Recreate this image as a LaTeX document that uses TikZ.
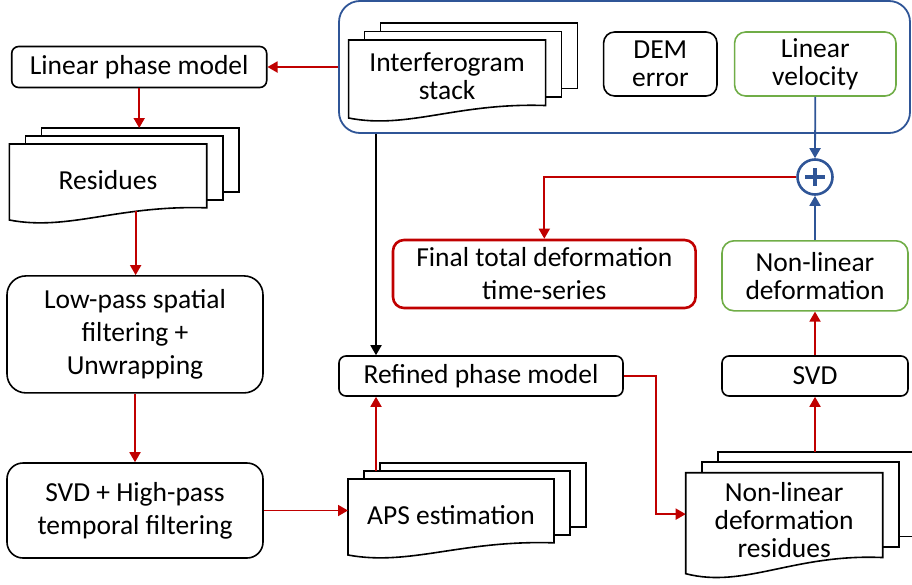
\documentclass[tikz,border=0pt]{standalone}
\usepackage{fontspec}
\setmainfont{Carlito}
\usepackage{xcolor}
\usepackage{tikz}
\usetikzlibrary{positioning,calc,arrows.meta}

\definecolor{flowred}{HTML}{C00000}
\definecolor{flowblue}{HTML}{2F5597}
\definecolor{flowgreen}{HTML}{70AD47}

% stack of three pages, front one with a wavy bottom
% #1 name, #2 x, #3 y (front page, top left), #4 width, #5 height, #6 step up, #7 text
\newcommand{\docstack}[7]{%
	\foreach \pg in {2,1}
		\draw[page] ({#2+16*\pg},{#3+(#6)*\pg}) rectangle ++(#4,{0.84*#5});
	\draw[page] (#2,#3) -- ++(#4,0) -- ++(0,{0.84*#5})
		.. controls ({#2+0.55*#4},{#3+0.8*#5}) and ({#2+0.3*#4},{#3+1.15*#5}) .. (#2,{#3+#5}) -- cycle;
	\coordinate (#1-top) at ({#2+32+0.5*#4},{#3+2*(#6)});
	\coordinate (#1-l) at (#2,{#3+0.41*#5});
	\coordinate (#1-wave) at ({#2+0.64*#4},{#3+0.885*#5});
	\node[doctext] (#1) at ({#2+0.5*#4},{#3+0.47*#5}) {#7};
}

\begin{document}
\begin{tikzpicture}[x=1pt,y=-1pt,
		box/.style={draw, line width=1.6pt, align=center, inner sep=0pt, font=\fontsize{27.5}{28}\selectfont},
		page/.style={draw, fill=white, line width=1.6pt},
		doctext/.style={align=center, inner sep=0pt, font=\fontsize{27.5}{28}\selectfont},
		link/.style={line width=1.8pt, -{Triangle[length=10pt,width=11pt]}}]
	
	\useasboundingbox (0,0) rectangle (912,584);
	
	% input group
	\node[draw=flowblue, line width=1.8pt, rounded corners=21pt, minimum width=571pt, minimum height=132pt] (grp) at (624.5,67) {};
	\docstack{ifg}{348.6}{40}{197}{78}{-8.5}{Interferogram\\stack}
	\node[box, rounded corners=11pt, minimum width=113.4pt, minimum height=64pt] (dem) at (660.3,64) {DEM\\error};
	\node[box, draw=flowgreen, rounded corners=11pt, minimum width=161.4pt, minimum height=64pt] (linvel) at (815.3,64) {Linear\\velocity};
	
	% left column
	\node[box, rounded corners=7pt, minimum width=255pt, minimum height=41pt] (lpm) at (139.2,67) {Linear phase model};
	\docstack{res}{9.3}{144}{197.4}{76}{-8}{Residues}
	\node[box, rounded corners=19pt, minimum width=256pt, minimum height=117pt, font=\fontsize{27.5}{33}\selectfont] (lowpass) at (135,334.4) {Low-pass spatial\\filtering +\\Unwrapping};
	\node[box, rounded corners=16pt, minimum width=256pt, minimum height=95pt, font=\fontsize{27.5}{33}\selectfont] (svdhp) at (135,510.5) {SVD + High-pass\\temporal filtering};
	
	% middle column
	\node[box, rounded corners=7pt, minimum width=284pt, minimum height=40pt] (refined) at (481,376) {Refined phase model};
	\node[box, draw=flowred, line width=2.6pt, rounded corners=11pt, minimum width=302.6pt, minimum height=68pt, font=\fontsize{27.5}{33}\selectfont] (final) at (544.3,274) {Final total deformation\\time-series};
	\docstack{aps}{348}{479}{206}{76}{-8}{APS estimation}
	\coordinate (apsup) at (376,471);
	
	% right column
	\node[box, draw=flowgreen, rounded corners=12pt, minimum width=186pt, minimum height=70pt] (nldef) at (815,275.8) {Non-linear\\deformation};
	\node[box, rounded corners=7pt, minimum width=186pt, minimum height=40pt] (svd) at (815,376) {SVD};
	\docstack{nlres}{685.7}{472.7}{197}{101}{-10.5}{Non-linear\\deformation\\residues}
	\node[circle, draw=flowblue, line width=2.6pt, minimum size=35pt, inner sep=0pt] (plus) at (815,177) {};
	\draw[flowblue, line width=4pt] (plus.center) ++(-10,0) -- ++(20,0) (plus.center) ++(0,-9) -- ++(0,18);
	
	% connectors
	\draw[link, flowred] (grp.west) -- (lpm.east);
	\draw[link, flowred] (lpm.south) -- (lpm.south |- res-top);
	\draw[link, flowred] (res-wave) -- (res-wave |- lowpass.north);
	\draw[link, flowred] (lowpass.south) -- (svdhp.north);
	\draw[link, flowred] (svdhp.east) -- (svdhp.east -| aps-l);
	\draw[link, flowred] (apsup) -- (apsup |- refined.south);
	\draw[link] (apsup |- grp.south) -- (apsup |- refined.north);
	\draw[link, flowred] (refined.east) -- ++(32,0) |- (nlres-l);
	\draw[link, flowred] (svd.south |- nlres-top) -- (svd.south);
	\draw[link, flowred] (svd.north) -- (nldef.south);
	\draw[link, flowblue] (nldef.north) -- (plus.south);
	\draw[link, flowblue] (linvel.south) -- (plus.north);
	\draw[link, flowred] (plus.west) -| (final.north);
	
\end{tikzpicture}
\end{document}
